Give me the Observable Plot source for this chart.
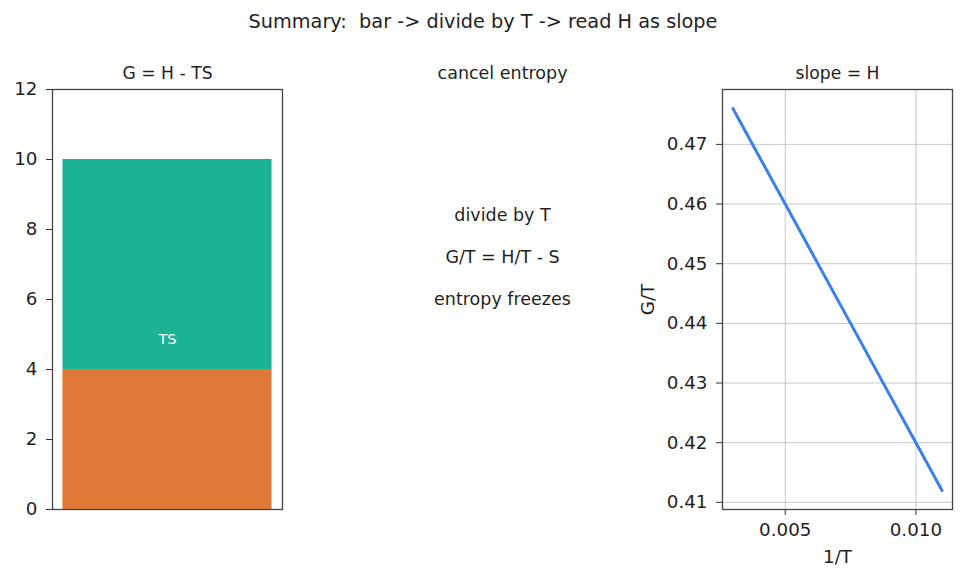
<!DOCTYPE html>
<html>
<head>
<meta charset="utf-8">
<script src="https://cdn.jsdelivr.net/npm/d3@7"></script>
<script src="https://cdn.jsdelivr.net/npm/@observablehq/plot@0.6"></script>
<style>
  html, body { margin: 0; padding: 0; background: #fff; }
  #wrap { position: relative; width: 966px; height: 582px; font-family: "DejaVu Sans", sans-serif; color: #1f1f1f; }
  #wrap > .panel { position: absolute; top: 0; }
  #suptitle { position: absolute; left: 0; top: 0; width: 966px; height: 44px; line-height: 44px; text-align: center; font-size: 19.3px; color: #1f1f1f; white-space: pre; }
</style>
</head>
<body>
<div id="wrap">
  <div id="suptitle"></div>
</div>
<script>
// ---------- data ----------
const suptitle = "Summary:  bar -> divide by T -> read H as slope";
const panelTitles = ["G = H - TS", "cancel entropy", "slope = H"];

// left panel: stacked bar
const barCenter = [0];
const barWidth = [0.8];
const segNames = ["H - TS", "TS"];
const segStart = [0, 4];
const segEnd = [4, 10];
const segColors = ["#e07938", "#1bb391"];
const segLabels = ["TS"];
const segLabelY = [4.85];
const barYTicks = [0, 2, 4, 6, 8, 10, 12];

// middle panel: text notes
const notes = ["divide by T", "G/T = H/T - S", "entropy freezes"];
const notesY = [0.7, 0.6, 0.5];

// right panel: G/T vs 1/T
const invT = [0.003, 0.005, 0.0075, 0.010, 0.011];
const gOverT = [0.476, 0.460, 0.440, 0.420, 0.412];
const rightXTicks = [0.005, 0.010];
const rightYTicks = [0.41, 0.42, 0.43, 0.44, 0.45, 0.46, 0.47];
const xLabel = "1/T";
const yLabel = "G/T";

// ---------- drawing ----------
const FONT = "DejaVu Sans";
const frameColor = "#444";
const tickColor = "#333";
const textColor = "#1f1f1f";
const baseStyle = {fontFamily: FONT, fontSize: "18px", color: textColor, background: "transparent", overflow: "visible"};

document.getElementById("suptitle").textContent = suptitle;
const wrap = document.getElementById("wrap");
function place(node, left) {
  const d = document.createElement("div");
  d.className = "panel";
  d.style.left = left + "px";
  d.appendChild(node);
  wrap.appendChild(d);
}

// Left panel
const segs = segNames.map((n, i) => ({
  x1: barCenter[0] - barWidth[0] / 2, x2: barCenter[0] + barWidth[0] / 2,
  name: n, y1: segStart[i], y2: segEnd[i], color: segColors[i]
}));
const left = Plot.plot({
  width: 320, height: 582,
  marginLeft: 52, marginRight: 38, marginTop: 89, marginBottom: 73,
  style: baseStyle,
  x: {domain: [-0.44, 0.44], axis: null},
  y: {domain: [0, 12]},
  marks: [
    Plot.rect(segs, {x1: "x1", x2: "x2", y1: "y1", y2: "y2", fill: "color"}),
    Plot.text(segLabels.map((t, i) => ({t, x: barCenter[0], y: segLabelY[i]})), {x: "x", y: "y", text: "t", fill: "white", fontSize: 14.5}),
    Plot.axisY({ticks: barYTicks, tickSize: 6, tickPadding: 9, stroke: tickColor, fill: textColor, fontSize: 18.3, label: null, tickFormat: d3.format("d")}),
    Plot.frame({stroke: frameColor, strokeWidth: 1.3}),
    Plot.text([panelTitles[0]], {frameAnchor: "top", dy: -11, lineAnchor: "bottom", fontSize: 17.2, fill: textColor})
  ]
});
place(left, 0);

// Middle panel
const mid = Plot.plot({
  width: 310, height: 582,
  marginLeft: 67, marginRight: 13, marginTop: 89, marginBottom: 73,
  style: baseStyle,
  x: {domain: [0, 1], axis: null},
  y: {domain: [0, 1], axis: null},
  marks: [
    Plot.text(notes.map((t, i) => ({t, y: notesY[i]})), {x: () => 0.5, y: "y", text: "t", fontSize: 17.5, fill: textColor}),
    Plot.text([panelTitles[1]], {frameAnchor: "top", dy: -11, lineAnchor: "bottom", fontSize: 17.5, fill: textColor})
  ]
});
place(mid, 320);

// Right panel
const pts = invT.map((x, i) => ({x, y: gOverT[i]}));
const right = Plot.plot({
  width: 336, height: 582,
  marginLeft: 92, marginRight: 14, marginTop: 89, marginBottom: 73,
  style: baseStyle,
  x: {domain: [0.0026, 0.0114]},
  y: {domain: [0.4088, 0.4792]},
  marks: [
    Plot.gridX(rightXTicks, {stroke: "#a8a8a8", strokeOpacity: 0.8, strokeWidth: 0.8}),
    Plot.gridY(rightYTicks, {stroke: "#a8a8a8", strokeOpacity: 0.8, strokeWidth: 0.8}),
    Plot.line(pts, {x: "x", y: "y", stroke: "#3a80e6", strokeWidth: 3}),
    Plot.axisX({ticks: rightXTicks, tickSize: 6, tickPadding: 7, stroke: tickColor, fill: textColor, fontSize: 18.3, label: null, tickFormat: d3.format(".3f")}),
    Plot.axisY({ticks: rightYTicks, tickSize: 6, tickPadding: 9, stroke: tickColor, fill: textColor, fontSize: 18.3, label: null, tickFormat: d3.format(".2f")}),
    Plot.frame({stroke: frameColor, strokeWidth: 1.3}),
    Plot.text([panelTitles[2]], {frameAnchor: "top", dy: -11, lineAnchor: "bottom", fontSize: 17.2, fill: textColor}),
    Plot.text([xLabel], {frameAnchor: "bottom", dy: 48, lineAnchor: "middle", fontSize: 18.3, fill: textColor}),
    Plot.text([yLabel], {frameAnchor: "left", dx: -74, rotate: -90, textAnchor: "middle", lineAnchor: "middle", fontSize: 18.3, fill: textColor})
  ]
});
place(right, 630);
</script>
</body>
</html>
